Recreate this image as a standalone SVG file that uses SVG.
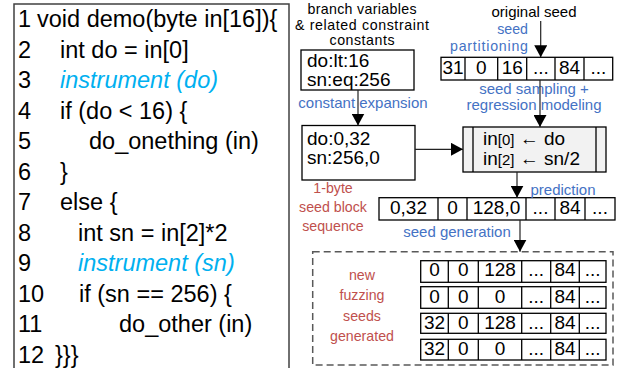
<svg xmlns="http://www.w3.org/2000/svg" width="618" height="368" viewBox="0 0 618 368">
<style>
text{font-family:"Liberation Sans",Arial,sans-serif;fill:#000}
.code{font-size:23.5px}
.ins{fill:#00B0F0;font-style:italic}
.lbl{font-size:15px}
.sm{font-size:14.2px}
.blue{fill:#4472C4}
.red{fill:#C0504D}
.box{fill:#fff;stroke:#000;stroke-width:1.3}
.cell{font-size:19px;text-anchor:middle}
.bt{font-size:19px}
.div{stroke:#000;stroke-width:1.3}
.mid{text-anchor:middle}
.conn{stroke:#222;stroke-width:1.2;fill:none;marker-end:url(#ah)}
</style>
<defs>
<marker id="ah" markerUnits="userSpaceOnUse" markerWidth="13" markerHeight="13" refX="12" refY="6.5" orient="auto">
<path d="M0,0 L12,6.5 L0,13 z" fill="#000"/>
</marker>
</defs>

<g id="code">
<rect x="14" y="4" width="275" height="366" fill="#fff" stroke="#404040" stroke-width="1.5"/>
<text class="code" x="18" y="27.3">1</text><text class="code" x="37" y="27.3">void demo(byte in[16]){</text>
<text class="code" x="18" y="57.8">2</text><text class="code" x="60" y="57.8">int do = in[0]</text>
<text class="code" x="18" y="88.3">3</text><text class="code ins" x="60" y="88.3">instrument (do)</text>
<text class="code" x="18" y="118.8">4</text><text class="code" x="60" y="118.8">if (do &lt; 16) {</text>
<text class="code" x="18" y="149.3">5</text><text class="code" x="89" y="149.3">do_onething (in)</text>
<text class="code" x="18" y="179.8">6</text><text class="code" x="60" y="179.8">}</text>
<text class="code" x="18" y="210.3">7</text><text class="code" x="60" y="210.3">else {</text>
<text class="code" x="18" y="240.8">8</text><text class="code" x="78" y="240.8">int sn = in[2]*2</text>
<text class="code" x="18" y="271.3">9</text><text class="code ins" x="78" y="271.3">instrument (sn)</text>
<text class="code" x="18" y="301.8">10</text><text class="code" x="79" y="301.8">if (sn == 256) {</text>
<text class="code" x="18" y="332.3">11</text><text class="code" x="119" y="332.3">do_other (in)</text>
<text class="code" x="18" y="362.8">12</text><text class="code" x="55" y="362.8">}}}</text>
</g>

<g id="label-branch">
<text class="sm mid" x="362" y="13.8" textLength="109">branch variables</text>
<text class="sm mid" x="362" y="29.6" textLength="134">&amp; related constraint</text>
<text class="sm mid" x="362" y="45.4" textLength="65">constants</text>
</g>

<g id="box-constraints">
<rect class="box" x="301" y="50" width="113" height="40"/>
<text class="bt" x="307" y="67">do:lt:16</text>
<text class="bt" x="307" y="86">sn:eq:256</text>
</g>

<g id="box-expanded">
<rect class="box" x="302" y="125.5" width="113" height="54.5"/>
<text class="bt" x="307" y="145">do:0,32</text>
<text class="bt" x="307" y="164">sn:256,0</text>
</g>

<g id="label-original">
<text class="lbl mid" x="534" y="17">original seed</text>
</g>

<g id="seed-original">
<rect class="box" x="441" y="57.3" width="171.7" height="22.7"/>
<path class="div" d="M465,57.3V80M497.7,57.3V80M526.7,57.3V80M555,57.3V80M584,57.3V80"/>
<text class="cell" x="453" y="73.5">31</text>
<text class="cell" x="481.3" y="73.5">0</text>
<text class="cell" x="512.2" y="73.5">16</text>
<text class="cell" x="540.8" y="73.5">...</text>
<text class="cell" x="569.5" y="73.5">84</text>
<text class="cell" x="598.3" y="73.5">...</text>
</g>

<g id="regression">
<rect x="463" y="127" width="143" height="45" fill="#F2F2F2" stroke="#000" stroke-width="1.3"/>
<path class="div" d="M473,127V172M596,127V172"/>
<text class="bt" x="483" y="145">in<tspan font-size="15">[0]</tspan> ← do</text>
<text class="bt" x="483" y="165">in<tspan font-size="15">[2]</tspan> ← sn/2</text>
</g>

<g id="label-sequence">
<text class="sm red mid" x="333" y="193">1-byte</text>
<text class="sm red mid" x="333" y="212">seed block</text>
<text class="sm red mid" x="333" y="230.5">sequence</text>
</g>

<g id="seed-sequence">
<rect class="box" x="379" y="197.7" width="236" height="22.3"/>
<path class="div" d="M438,197.7V220M467,197.7V220M526,197.7V220M555,197.7V220M585,197.7V220"/>
<text class="cell" x="408.5" y="213.5">0,32</text>
<text class="cell" x="452.5" y="213.5">0</text>
<text class="cell" x="496.5" y="213.5">128,0</text>
<text class="cell" x="540.5" y="213.5">...</text>
<text class="cell" x="570" y="213.5">84</text>
<text class="cell" x="600" y="213.5">...</text>
</g>

<g id="new-seeds">
<rect x="312.7" y="251.7" width="300.3" height="113.3" fill="none" stroke="#595959" stroke-width="1.5" stroke-dasharray="7 4"/>
<text class="sm red mid" x="362" y="279.5">new</text>
<text class="sm red mid" x="362" y="300">fuzzing</text>
<text class="sm red mid" x="362" y="320.5">seeds</text>
<text class="sm red mid" x="362" y="340.5">generated</text>
</g>

<g id="seed-1">
<rect class="box" x="420.7" y="260.7" width="185.3" height="21.6"/>
<path class="div" d="M448.3,260.7V282.3M478.3,260.7V282.3M521.7,260.7V282.3M550.7,260.7V282.3M579.3,260.7V282.3"/>
<text class="cell" x="434.5" y="276">0</text><text class="cell" x="463.3" y="276">0</text><text class="cell" x="500" y="276">128</text><text class="cell" x="536.2" y="276">...</text><text class="cell" x="565" y="276">84</text><text class="cell" x="592.7" y="276">...</text>
</g>
<g id="seed-2">
<rect class="box" x="420.7" y="286.7" width="185.3" height="21.6"/>
<path class="div" d="M448.3,286.7V308.3M478.3,286.7V308.3M521.7,286.7V308.3M550.7,286.7V308.3M579.3,286.7V308.3"/>
<text class="cell" x="434.5" y="302.5">0</text><text class="cell" x="463.3" y="302.5">0</text><text class="cell" x="500" y="302.5">0</text><text class="cell" x="536.2" y="302.5">...</text><text class="cell" x="565" y="302.5">84</text><text class="cell" x="592.7" y="302.5">...</text>
</g>
<g id="seed-3">
<rect class="box" x="420.7" y="313.3" width="185.3" height="20"/>
<path class="div" d="M448.3,313.3V333.3M478.3,313.3V333.3M521.7,313.3V333.3M550.7,313.3V333.3M579.3,313.3V333.3"/>
<text class="cell" x="434.5" y="329">32</text><text class="cell" x="463.3" y="329">0</text><text class="cell" x="500" y="329">128</text><text class="cell" x="536.2" y="329">...</text><text class="cell" x="565" y="329">84</text><text class="cell" x="592.7" y="329">...</text>
</g>
<g id="seed-4">
<rect class="box" x="420.7" y="339.3" width="185.3" height="20.7"/>
<path class="div" d="M448.3,339.3V360M478.3,339.3V360M521.7,339.3V360M550.7,339.3V360M579.3,339.3V360"/>
<text class="cell" x="434.5" y="355">32</text><text class="cell" x="463.3" y="355">0</text><text class="cell" x="500" y="355" font-size="21">0</text><text class="cell" x="536.2" y="355">...</text><text class="cell" x="565" y="355">84</text><text class="cell" x="592.7" y="355">...</text>
</g>

<g id="edge-labels">
<text class="lbl blue mid" x="363" y="108">constant expansion</text>
<text class="sm blue" x="528" y="34" text-anchor="end">seed</text>
<text class="sm blue" x="528" y="50.5" text-anchor="end" textLength="78">partitioning</text>
<text class="lbl blue mid" x="534" y="94">seed sampling +</text>
<text class="lbl blue mid" x="534" y="110">regression modeling</text>
<text class="lbl blue mid" x="563" y="194.5">prediction</text>
<text class="lbl blue mid" x="457" y="237">seed generation</text>
</g>

<g id="connectors">
<path class="conn" d="M358,90V125.5"/>
<path class="conn" d="M415,149.3H463"/>
<path class="conn" d="M540.7,21V57.3"/>
<path class="conn" d="M540,80V127"/>
<path class="conn" d="M517,172V197.7"/>
<path class="conn" d="M520,220V251.7"/>
</g>
</svg>
